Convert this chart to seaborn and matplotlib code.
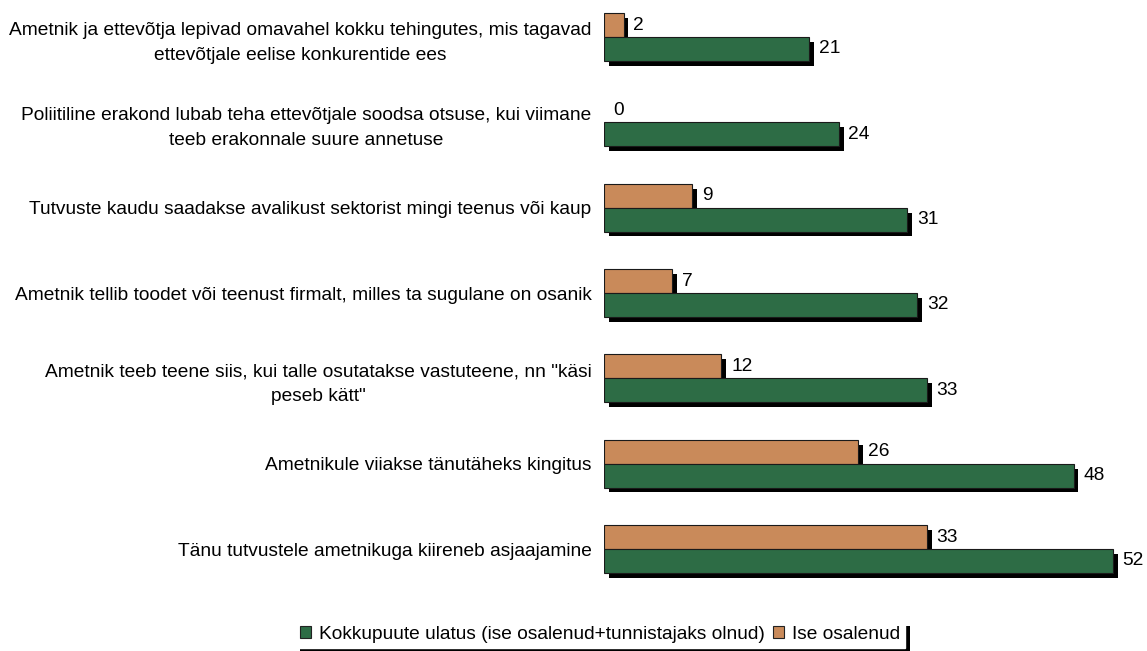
import matplotlib
matplotlib.use("Agg")
import matplotlib.pyplot as plt
import matplotlib.patheffects as pe
from matplotlib.patches import Patch
import pandas as pd
import seaborn as sns

categories = [
    "Ametnik ja ettevõtja lepivad omavahel kokku tehingutes, mis tagavad\nettevõtjale eelise konkurentide ees",
    "Poliitiline erakond lubab teha ettevõtjale soodsa otsuse, kui viimane\nteeb erakonnale suure annetuse",
    "Tutvuste kaudu saadakse avalikust sektorist mingi teenus või kaup",
    "Ametnik tellib toodet või teenust firmalt, milles ta sugulane on osanik",
    "Ametnik teeb teene siis, kui talle osutatakse vastuteene, nn \"käsi\npeseb kätt\"",
    "Ametnikule viiakse tänutäheks kingitus",
    "Tänu tutvustele ametnikuga kiireneb asjaajamine",
]
ise_osalenud = [2, 0, 9, 7, 12, 26, 33]
kokkupuute_ulatus = [21, 24, 31, 32, 33, 48, 52]

series_names = ["Ise osalenud", "Kokkupuute ulatus (ise osalenud+tunnistajaks olnud)"]
colors = {series_names[0]: "#c98a5a", series_names[1]: "#2d6c45"}

df = pd.concat([
    pd.DataFrame({"kategooria": categories, "seeria": series_names[0], "vaartus": ise_osalenud}),
    pd.DataFrame({"kategooria": categories, "seeria": series_names[1], "vaartus": kokkupuute_ulatus}),
])

sns.set_theme(style="white")
plt.rcParams["font.family"] = ["Liberation Sans", "DejaVu Sans"]
plt.rcParams["text.color"] = "black"
plt.rcParams["ytick.color"] = "black"
FS = 13.8

fig = plt.figure(figsize=(11.47, 6.51), dpi=100)
ax = fig.add_axes([604 / 1147, 1 - 590 / 651, (1142 - 604) / 1147, 590 / 651])

sns.barplot(
    data=df, y="kategooria", x="vaartus", hue="seeria",
    hue_order=series_names, palette=colors, orient="h", saturation=1,
    width=0.56, edgecolor="#1a1a1a", linewidth=0.8,
    legend=False, ax=ax,
)

# must varjud nagu Exceli graafikul
shadow = [pe.SimplePatchShadow(offset=(3.5, -3.5), shadow_rgbFace="black", alpha=1.0), pe.Normal()]
for bar in ax.patches:
    if bar.get_width() == 0:
        bar.set_visible(False)
    bar.set_path_effects(shadow)

for cont in ax.containers:
    ax.bar_label(cont, padding=7, fontsize=FS, color="black")

ax.set_xlim(0, 55)
ax.set_ylim(6.48, -0.434)
ax.set_xlabel("")
ax.set_ylabel("")
ax.set_xticks([])
ax.tick_params(axis="y", length=0, pad=9, labelsize=FS, labelcolor="black")
for lbl in ax.get_yticklabels():
    lbl.set_multialignment("center")
    lbl.set_linespacing(1.6)
sns.despine(ax=ax, left=True, bottom=True)

handles = [Patch(facecolor=colors[series_names[1]], edgecolor="#222222", linewidth=0.8),
           Patch(facecolor=colors[series_names[0]], edgecolor="#222222", linewidth=0.8)]
leg = fig.legend(
    handles, [series_names[1], series_names[0]],
    loc="lower center", bbox_to_anchor=(0.523, 0.005), ncol=2,
    fontsize=FS, frameon=True, fancybox=False, framealpha=1,
    handlelength=0.6, handleheight=0.6, handletextpad=0.4,
    columnspacing=0.4, borderpad=0.25, borderaxespad=0.0,
)
frame = leg.get_frame()
frame.set_edgecolor("white")
frame.set_facecolor("white")
frame.set_path_effects([pe.SimplePatchShadow(offset=(3.5, -3.5), shadow_rgbFace="black", alpha=1.0), pe.Normal()])

fig.savefig("out.png", dpi=100)
plt.close(fig)
